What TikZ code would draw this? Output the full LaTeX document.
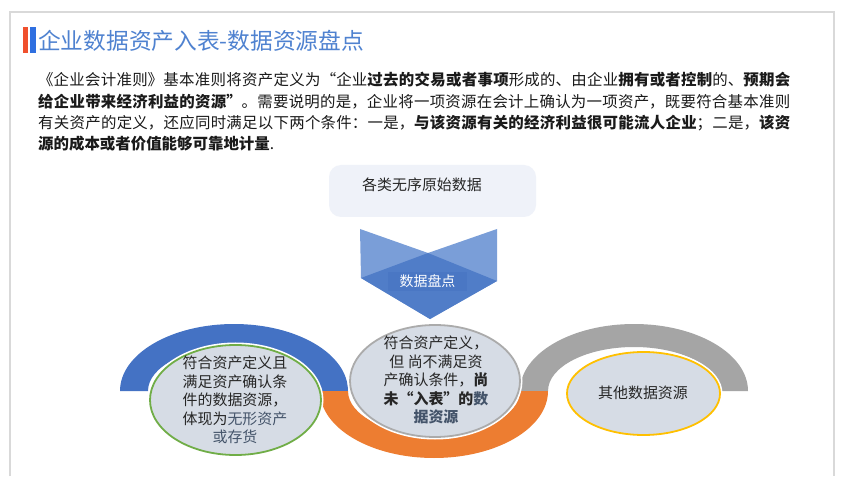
\documentclass[tikz,border=0pt]{standalone}
\usepackage{fontspec}
\setmainfont{Noto Sans CJK SC}
\usetikzlibrary{shapes.geometric}
\XeTeXlinebreaklocale "zh"
\XeTeXlinebreakskip=0pt plus 2pt
\definecolor{framegray}{HTML}{D9D9D9}
\definecolor{barred}{HTML}{F0502D}
\definecolor{barblue}{HTML}{2F6FE0}
\definecolor{titleblue}{HTML}{4F82D0}
\definecolor{bodyblack}{HTML}{1A1A1A}
\definecolor{boxfill}{HTML}{EFF2F9}
\definecolor{wing}{HTML}{7A9ED8}
\definecolor{chevdark}{HTML}{507DC8}
\definecolor{labelbg}{HTML}{4A77C4}
\definecolor{ringblue}{HTML}{4472C4}
\definecolor{ringorange}{HTML}{ED7D31}
\definecolor{ringgray}{HTML}{A5A5A5}
\definecolor{ellfill}{HTML}{D6DCE5}
\definecolor{ellgreen}{HTML}{70AD47}
\definecolor{ellgray}{HTML}{ABABAB}
\definecolor{ellyellow}{HTML}{FFC000}
\definecolor{slate}{HTML}{44546A}
\definecolor{darktext}{HTML}{262626}
\begin{document}
\begin{tikzpicture}[x=1bp,y=-1bp,
  ellbox/.style={ellipse, fill=ellfill, inner sep=0pt, preaction={draw=white, line width=5bp}},
  elltext/.style={align=center, text=darktext, inner sep=0pt, font=\fontsize{15}{18.5}\selectfont},
]
\useasboundingbox (0,0) rectangle (847,484);
\fill[white] (0,0) rectangle (847,484);
% frame
\draw[framegray, line width=1.8bp] (10,476) -- (10,12) -- (834,12) -- (834,476);
% title
\fill[barred] (23,27) rectangle (28,53);
\fill[barblue] (30,27) rectangle (36,53);
\node[anchor=west, text=titleblue, inner sep=0pt, font=\fontsize{22.8}{26}\selectfont] (title) at (38,41) {企业数据资产入表-数据资源盘点};
% paragraph
\node[anchor=north west, inner sep=0pt, text width=752bp, align=justify, text=bodyblack,
      font=\fontsize{15.5}{21.5}\selectfont] (para) at (38,72) {\tolerance=10000\noindent
《企业会计准则》基本准则将资产定义为“企业\textbf{过去的交易或者事项}形成的、由企业\textbf{拥有或者控制}的、\textbf{预期会}\linebreak
\textbf{给企业带来经济利益的资源”}。需要说明的是，企业将一项资源在会计上确认为一项资产，既要符合基本准则\linebreak
有关资产的定义，还应同时满足以下两个条件：一是，\textbf{与该资源有关的经济利益很可能流人企业}；二是，\textbf{该资}\linebreak
\textbf{源的成本或者价值能够可靠地计量}.};
% source box
\node[rounded corners=12bp, fill=boxfill, minimum width=207bp, minimum height=52bp, inner sep=0pt] (src) at (432.5,191) {};
\node[inner sep=0pt, text=darktext, font=\fontsize{15}{18}\selectfont] (srct) at (422,185) {各类无序原始数据};
% chevron
\fill[wing] (360,229) -- (428,253) -- (497,229) -- (497,281) -- (430,319) -- (361,278) -- cycle;
\fill[chevdark] (361,278) -- (428,253) -- (497,281) -- (430,319) -- cycle;
\node[fill=labelbg, minimum width=79bp, minimum height=19bp, inner sep=0pt] (chev) at (427.5,281.5) {};
\node[inner sep=0pt, text=white, font=\fontsize{14}{16}\selectfont] (chevt) at (chev) {数据盘点};
% rings
\fill[ringblue] (120,391) arc[start angle=180, end angle=360, x radius=114, y radius=67]
   -- (320,391) arc[start angle=0, end angle=-180, x radius=86, y radius=44] -- cycle;
\fill[ringgray] (520,391) arc[start angle=180, end angle=360, x radius=114, y radius=67]
   -- (720,391) arc[start angle=0, end angle=-180, x radius=86, y radius=44] -- cycle;
\fill[ringorange] (320,391) arc[start angle=180, end angle=0, x radius=114, y radius=67]
   -- (520,391) arc[start angle=0, end angle=180, x radius=86, y radius=44] -- cycle;
% ellipses
\node[ellbox, draw=ellgreen, line width=1.8bp, minimum width=171bp, minimum height=110bp] (e1) at (235.5,400) {};
\node[ellbox, draw=ellgray, line width=1.8bp, minimum width=170bp, minimum height=112bp] (e2) at (435,381) {};
\node[ellbox, draw=ellyellow, line width=1.8bp, minimum width=153bp, minimum height=83bp] (e3) at (643.5,393.5) {};
\node[elltext] (t1) at (235,400) {符合资产定义且\\满足资产确认条\\件的数据资源，\\体现为\textcolor{slate}{无形资产}\\\textcolor{slate}{或存货}};
\node[elltext] (t2) at (436,380) {符合资产定义，\\但\ 尚不满足资\\产确认条件，\textbf{尚}\\\textbf{未“入表”的\textcolor{slate}{数}}\\\textbf{\textcolor{slate}{据资源}}};
\node[elltext] (t3) at (643,393) {其他数据资源};
\end{tikzpicture}
\end{document}
